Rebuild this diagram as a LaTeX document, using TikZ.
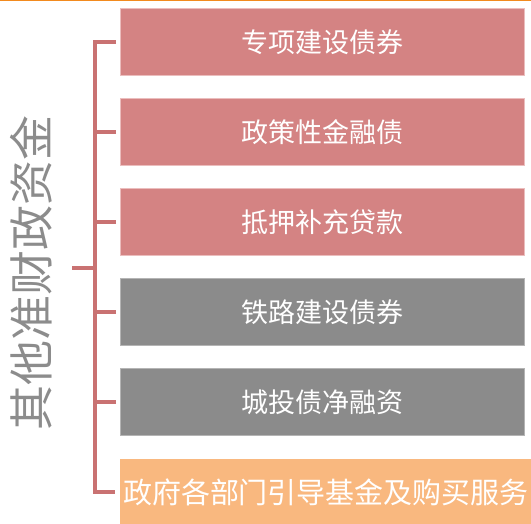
\documentclass[tikz,border=0pt]{standalone}
\usepackage{fontspec}
\setmainfont{Noto Sans CJK SC}
\usetikzlibrary{positioning}
\definecolor{pinkFill}{HTML}{D48383}
\definecolor{pinkEdge}{HTML}{EBBDBD}
\definecolor{grayFill}{HTML}{8B8B8B}
\definecolor{grayEdge}{HTML}{B4B4B4}
\definecolor{orangeFill}{HTML}{F9B87F}
\definecolor{bracketRed}{HTML}{C97272}
\definecolor{topOrange}{HTML}{F28A1E}
\definecolor{titleGray}{HTML}{8C8C8C}
\tikzset{redbox/.style={rectangle,draw=pinkEdge,fill=pinkFill,text=white,line width=1pt,outer sep=0pt,minimum width=404pt,minimum height=67pt,font=\fontsize{27}{27}\selectfont}}
\tikzset{graybox/.style={redbox,draw=grayEdge,fill=grayFill}}
\tikzset{orangebox/.style={redbox,draw=none,fill=orangeFill,minimum width=410pt,font=\fontsize{29}{29}\selectfont}}
\tikzset{titleT/.style={rotate=90,text=titleGray,font=\fontsize{45}{45}\selectfont}}
\tikzset{bracketLine/.style={draw=bracketRed,line width=4pt}}

\begin{document}
\begin{tikzpicture}[x=1pt,y=1pt]
\useasboundingbox (0,0) rectangle (531,524);
\draw[topOrange,line width=2pt] (0,524) -- (531,524);
\begin{scope}[node distance=23pt]
	\node (box1) [redbox] at (322,481.5) {专项建设债券} ;
	\node (box2) [redbox, below =of box1] {政策性金融债} ;
	\node (box3) [redbox, below =of box2] {抵押补充贷款} ;
	\node (box4) [graybox, below =of box3] {铁路建设债券} ;
	\node (box5) [graybox, below =of box4] {城投债净融资} ;
	\node (box6) [orangebox, below =of box5, xshift=4pt] {政府各部门引导基金及购买服务} ;
	\node (title) [titleT] at (31,251) {其他准财政资金} ;
\end{scope}
% bracket
\coordinate (spinetop) at ([xshift=-25pt]box1.west);
\coordinate (spinebot) at (spinetop |- box6.west);
\coordinate (hub) at (72,256);
\draw[bracketLine] ([xshift=-4pt]box1.west) -- (spinetop) -- (spinebot) -- ([xshift=-5pt]box6.west);
\foreach \b in {box2,box3,box4,box5}
	\draw[bracketLine] ([xshift=-4pt]\b.west) -- (spinetop |- \b.west);
\draw[bracketLine] (hub) -- (hub -| spinetop);
\end{tikzpicture}
\end{document}
